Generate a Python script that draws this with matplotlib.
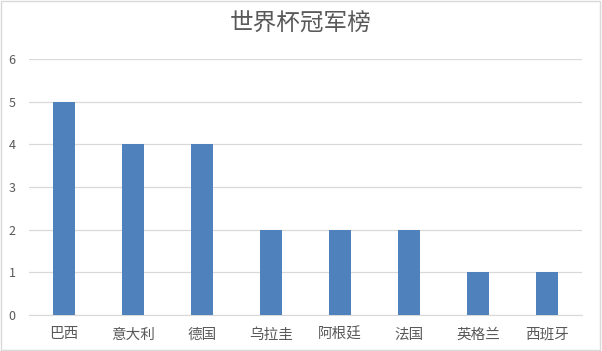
import matplotlib
matplotlib.use("Agg")
import matplotlib.pyplot as plt
from matplotlib.patches import Rectangle

plt.rcParams['font.family'] = ['Noto Sans CJK SC', 'DejaVu Sans']

categories = ['巴西', '意大利', '德国', '乌拉圭', '阿根廷', '法国', '英格兰', '西班牙']
titles = [5, 4, 4, 2, 2, 2, 1, 1]
yticks = [0, 1, 2, 3, 4, 5, 6]

fig = plt.figure(figsize=(6.02, 3.51), dpi=100)
ax = fig.add_axes([0.049, 0.1026, 0.917, 0.7295])

x = list(range(len(categories)))
ax.bar(x, titles, width=0.31, color='#4F81BD', zorder=3)
ax.set_xlim(-0.5, len(categories) - 0.5)
ax.set_ylim(0, 6)
ax.set_yticks(yticks)
ax.set_xticks(x)
ax.set_xticklabels(categories, fontsize=10.5, color='#595959')
ax.tick_params(axis='y', labelsize=9, colors='#595959', length=0, pad=10)
ax.tick_params(axis='x', length=0, pad=9)
ax.grid(axis='y', color='#D9D9D9', linewidth=0.9, zorder=0)
for s in ['top', 'right', 'left']:
    ax.spines[s].set_visible(False)
ax.spines['bottom'].set_color('#D9D9D9')

fig.text(0.5, 0.935, '世界杯冠军榜', ha='center', va='center', fontsize=17,
         color='#595959', fontweight='light')
fig.patches.append(Rectangle((0.002, 0.003), 0.995, 0.994, transform=fig.transFigure,
                             fill=False, edgecolor='#D9D9D9', linewidth=1))

fig.savefig('out.png', dpi=100)
